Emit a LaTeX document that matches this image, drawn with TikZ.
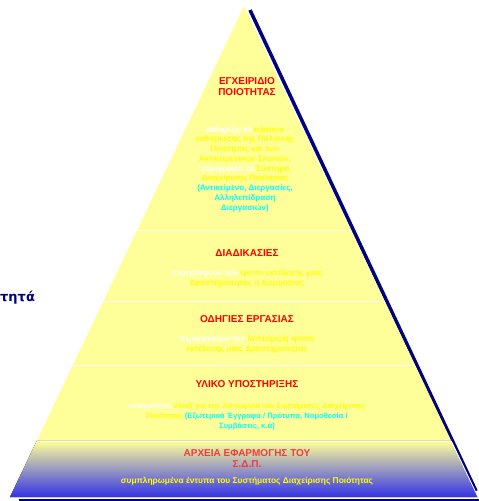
\documentclass[tikz,border=0pt]{standalone}
\usepackage{fontspec}
\setmainfont{Liberation Sans}
\newfontfamily\sidefont{DejaVu Sans}
\usetikzlibrary{calc}
\definecolor{pyryellow}{RGB}{255,255,153}
\definecolor{pyrblue}{RGB}{50,50,232}
\definecolor{shadownavy}{RGB}{0,0,128}
\definecolor{titlered}{RGB}{255,0,0}
\definecolor{txtyellow}{RGB}{255,255,0}
\definecolor{txtcyan}{RGB}{0,255,255}
\tikzset{
  titletext/.style={text=titlered, font=\fontsize{10}{11}\selectfont\bfseries, align=center, inner sep=0pt},
  bodytext/.style={text=txtyellow, font=\fontsize{8}{9.75}\selectfont\bfseries, align=center, inner sep=0pt},
  sepline/.style={draw=white, line width=0.9pt},
  shadowline/.style={draw=shadownavy, line width=3.5pt}
}
\begin{document}
\begin{tikzpicture}[x=1pt,y=-1pt]
\useasboundingbox (0,0) rectangle (479,501);
% pyramid corners
\coordinate (A) at (244,6);
\coordinate (L) at (10,497);
\coordinate (R) at (478,497);
% shadow
\coordinate (s1) at (250,10);
\coordinate (s2) at (476,491);
\coordinate (b1) at (19,500);
\coordinate (b2) at (479,500);
\draw[shadowline] (s1) -- (s2);
\draw[draw=shadownavy, line width=2pt] (b1) -- (b2);
% band separators
\coordinate (l1) at ($(A)!0.4562!(L)$);
\coordinate (r1) at ($(A)!0.4562!(R)$);
\coordinate (l2) at ($(A)!0.6008!(L)$);
\coordinate (r2) at ($(A)!0.6008!(R)$);
\coordinate (l3) at ($(A)!0.7312!(L)$);
\coordinate (r3) at ($(A)!0.7312!(R)$);
\coordinate (l4) at ($(A)!0.8859!(L)$);
\coordinate (r4) at ($(A)!0.8859!(R)$);
\fill[pyryellow] (A) -- (L) -- (R) -- cycle;
\fill[top color=pyryellow, bottom color=pyrblue] (l4) -- (r4) -- (R) -- (L) -- cycle;
\draw[draw=white, line width=0.8pt] (r4) -- (R);
\draw[sepline] (l1) -- (r1);
\draw[sepline] (l2) -- (r2);
\draw[sepline] (l3) -- (r3);
\draw[sepline] (l4) -- (r4);
% side text
\node[anchor=base west, inner sep=0pt, text=shadownavy, font=\sidefont\fontsize{13}{14}\selectfont\bfseries] (side) at (0,301) {τητά};
% level 1
\node[titletext] (t1) at (247,86.5) {ΕΓΧΕΙΡΙΔΙΟ\\ΠΟΙΟΤΗΤΑΣ};
\node[bodytext] (d1) at (245,169) {\textcolor{white}{καθορίζει το} πλαίσιο\\καθιέρωσης της Πολιτικής\\Ποιότητας και των\\Αντικειμενικών Σκοπών,\\\textcolor{white}{περιγράφει το} Σύστημα\\Διαχείρισης Ποιότητας\\\textcolor{txtcyan}{(Αντικείμενο, Διεργασίες,}\\\textcolor{txtcyan}{Αλληλεπίδραση}\\\textcolor{txtcyan}{Διεργασιών)}};
% level 2
\node[titletext] (t2) at (247,253) {ΔΙΑΔΙΚΑΣΙΕΣ};
\node[bodytext] (d2) at (247,278.5) {\textcolor{white}{περιγράφουν τον} τρόπο εκτέλεσης μιας\\Δραστηριότητας ή Διεργασίας};
% level 3
\node[titletext] (t3) at (247,319) {ΟΔΗΓΙΕΣ ΕΡΓΑΣΙΑΣ};
\node[bodytext] (d3) at (247,344.5) {\textcolor{white}{περιγράφουν τον} λεπτομερή τρόπο\\εκτέλεσης μιας Δραστηριότητας};
% level 4
\node[titletext] (t4) at (247,384) {ΥΛΙΚΟ ΥΠΟΣΤΗΡΙΞΗΣ};
\node[bodytext, font=\fontsize{7.6}{10.2}\selectfont\bfseries] (d4) at (247,416.5) {\textcolor{white}{απαραίτητο} υλικό για την λειτουργία του Συστήματος Διαχείρισης\\Ποιότητας \textcolor{txtcyan}{(Εξωτερικά Έγγραφα / Πρότυπα, Νομοθεσία /}\\\textcolor{txtcyan}{Συμβάσεις, κ.ά)}};
% level 5
\node[titletext, text={rgb,255:red,240;green,60;blue,60}] (t5) at (247,458.5) {ΑΡΧΕΙΑ ΕΦΑΡΜΟΓΗΣ ΤΟΥ\\Σ.Δ.Π.};
\node[bodytext, font=\fontsize{8.4}{10}\selectfont\bfseries] (d5) at (247,481) {συμπληρωμένα έντυπα του Συστήματος Διαχείρισης Ποιότητας};
\end{tikzpicture}
\end{document}
